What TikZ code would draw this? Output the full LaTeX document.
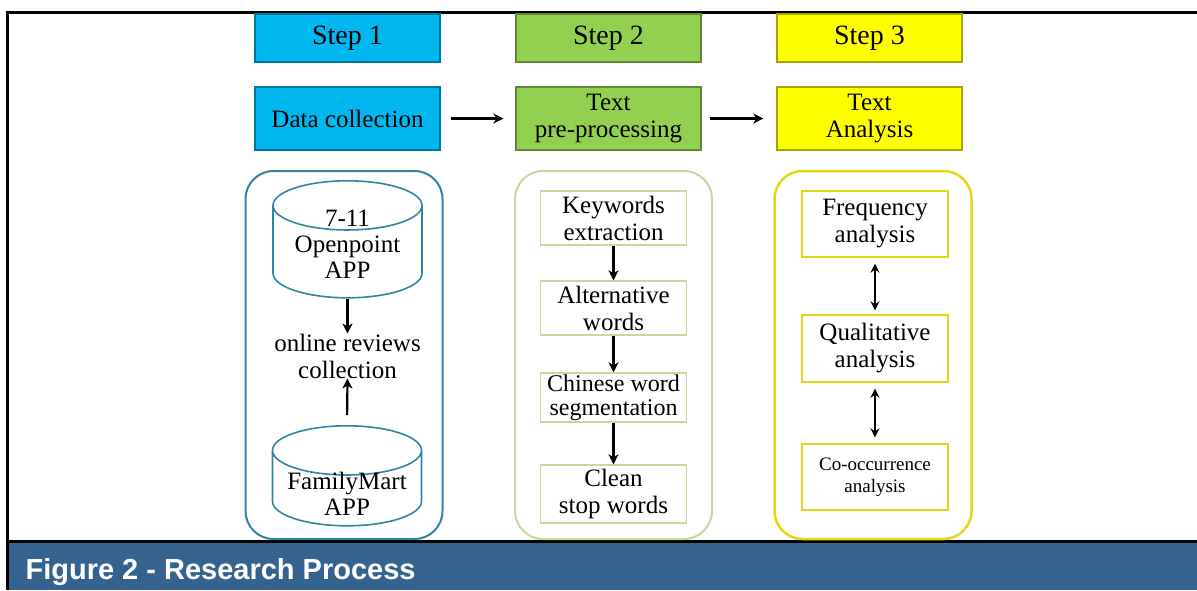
\documentclass[tikz,border=0pt]{standalone}
\usepackage{fontspec}
\setmainfont{Liberation Serif}
\newfontfamily\capfont{Liberation Sans}
\usepackage{xcolor}
\usepackage{tikz}
\usetikzlibrary{arrows,arrows.meta,positioning}
\usetikzlibrary{shapes.geometric}
\definecolor{stepblue}{RGB}{0,183,240}
\definecolor{stepgreen}{RGB}{146,208,80}
\definecolor{stepyellow}{RGB}{255,255,0}
\definecolor{lineblue}{RGB}{49,133,160}
\definecolor{linegreen}{RGB}{196,218,160}
\definecolor{lineyellow}{RGB}{228,216,20}
\definecolor{capblue}{RGB}{53,99,143}

\begin{document}
\begin{tikzpicture}[x=1pt,y=-1pt,
		stepbox/.style={draw=#1!65!black,fill=#1,line width=1.2pt,minimum width=185,inner sep=0pt,align=center,font=\fontsize{25}{27}\selectfont},
		group/.style={draw=#1,line width=2pt,rounded corners=28pt,minimum width=197,minimum height=368},
		db/.style={cylinder,shape border rotate=90,aspect=0.33,draw=lineblue,line width=1.6pt,inner sep=0pt,anchor=north},
		dbtext/.style={align=center,inner sep=0pt,font=\fontsize{25}{26}\selectfont},
		task/.style={draw=#1,line width=1.4pt,minimum width=146,inner sep=0pt,align=center,font=\fontsize{25}{27}\selectfont},
		flow/.style={-{Stealth[length=10pt,width=10pt,inset=3pt]},line width=2.2pt},
		both/.style={{Stealth[length=9pt,width=9pt,inset=3pt]}-{Stealth[length=9pt,width=9pt,inset=3pt]},line width=2.2pt}]
	\useasboundingbox (0,0) rectangle (1197,590);
	% caption bar
	\fill[capblue] (9,542.5) rectangle (1197,590);
	\node[anchor=base west,text=white,font=\capfont\bfseries\fontsize{29}{31}\selectfont] (caption) at (22,579) {Figure 2 - Research Process};
	\draw[line width=3pt] (7,590) -- (7,12) -- (1197,12);
	\draw[line width=3pt] (7,541) -- (1197,541);
	% steps
	\node[stepbox=stepblue,minimum height=48,font=\fontsize{28}{30}\selectfont] (s1) at (347.5,38) {Step 1};
	\node[stepbox=stepgreen,minimum height=48,font=\fontsize{28}{30}\selectfont] (s2) at (608.5,38) {Step 2};
	\node[stepbox=stepyellow,minimum height=48,font=\fontsize{28}{30}\selectfont] (s3) at (869.5,38) {Step 3};
	\node[stepbox=stepblue,minimum height=63] (dc) at (347.5,118.5) {Data collection};
	\node[stepbox=stepgreen,minimum height=63] (tp) at (608.5,118.5) {Text\\pre-processing};
	\node[stepbox=stepyellow,minimum height=63] (ta) at (869.5,118.5) {Text\\Analysis};
	\draw[flow,shorten <=10pt,shorten >=12pt] (dc) -- (tp);
	\draw[flow,shorten <=8pt,shorten >=13pt] (tp) -- (ta);
	% columns
	\node[group=lineblue] (colA) at (344,355) {};
	\node[group=linegreen] (colB) at (613.5,355) {};
	\node[group=lineyellow,line width=2.5pt] (colC) at (873,355) {};
	% step 1
	\node[db,minimum height=117] (app1) at (347.5,180) {\hspace*{149pt}};
	\node[dbtext] (app1txt) at (347.5,244) {7-11\\Openpoint\\APP};
	\node[db,minimum height=100] (app2) at (347,425) {\hspace*{149pt}};
	\node[dbtext] (app2txt) at (347,494) {FamilyMart\\APP};
	\node[dbtext,font=\fontsize{25}{27}\selectfont] (rev) at (347.5,356) {online reviews\\collection};
	\draw[flow] (app1.south) -- (rev.north);
	\draw[flow,shorten <=10pt] (app2.north) -- (rev.south);
	% step 2
	\node[task=linegreen,minimum height=54] (kw) at (613.5,218) {Keywords\\extraction};
	\node[task=linegreen,minimum height=54] (alt) at (613.5,308) {Alternative\\words};
	\node[task=linegreen,minimum height=49,font=\fontsize{24}{24}\selectfont] (seg) at (613.5,397.5) {Chinese word\\segmentation};
	\node[task=linegreen,minimum height=58] (cln) at (613.5,494) {Clean\\stop words};
	\draw[flow] (kw) -- (alt);
	\draw[flow] (alt) -- (seg);
	\draw[flow] (seg) -- (cln);
	% step 3
	\node[task=lineyellow,minimum height=66] (freq) at (875,224) {Frequency\\analysis};
	\node[task=lineyellow,minimum height=67] (qual) at (875,348.5) {Qualitative\\analysis};
	\node[task=lineyellow,minimum height=66,font=\fontsize{19}{22}\selectfont] (cooc) at (875,477) {Co-occurrence\\analysis};
	\draw[both,shorten <=6pt,shorten >=4pt] (freq) -- (qual);
	\draw[both,shorten <=6pt,shorten >=6pt] (qual) -- (cooc);
\end{tikzpicture}
\end{document}
